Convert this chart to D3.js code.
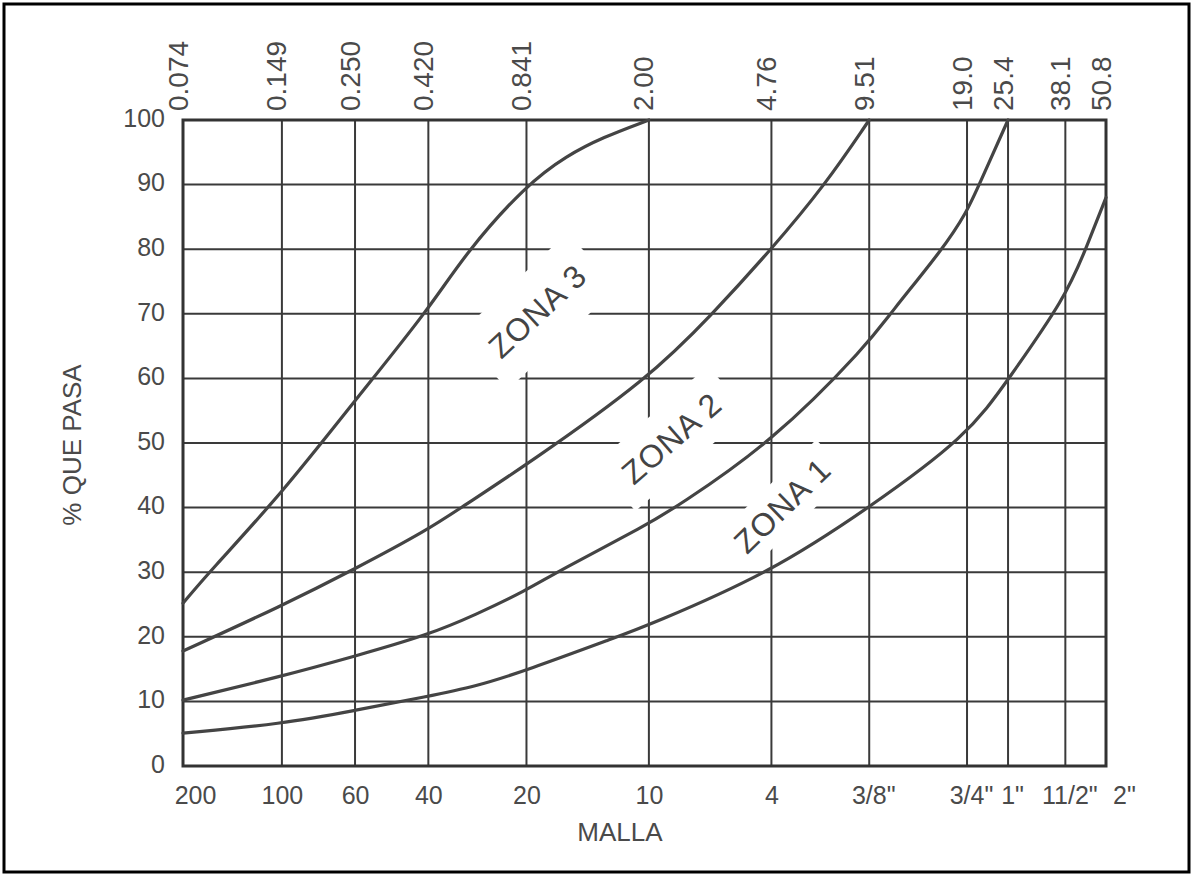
<!DOCTYPE html>
<html lang="es">
<head>
<meta charset="UTF-8">
<title>Zonas granulométricas</title>
<script src="https://cdnjs.cloudflare.com/ajax/libs/d3/7.8.0/d3.min.js"></script>
<style>
  body { margin: 0; background: #fff; }
  svg { display: block; font-family: "Liberation Sans", Arial, sans-serif; }
  .lbl text { fill: #4a4a4a; font-size: 25px; }
  .grid line { stroke: #3a3a3a; stroke-width: 2; }
  .curve { fill: none; stroke: #444; stroke-width: 3.2; stroke-linecap: round; }
</style>
</head>
<body>
<svg id="viz" width="1193" height="876"></svg>
<script>
// abertura del tamiz en mm (eje log)
const tamices = [0.074, 0.149, 0.250, 0.420, 0.841, 2.00, 4.76, 9.51, 19.0, 25.4, 38.1, 50.8];
const mmLabels = ["0.074", "0.149", "0.250", "0.420", "0.841", "2.00", "4.76", "9.51", "19.0", "25.4", "38.1", "50.8"];
const mallaLabels = ["200", "100", "60", "40", "20", "10", "4", "3/8\"", "3/4\"", "1\"", "11/2\"", "2\""];
const pctTicks = [0, 10, 20, 30, 40, 50, 60, 70, 80, 90, 100];

// curvas limite [mm, % que pasa]
const limite3 = [[0.074, 25.2], [0.089, 30], [0.149, 42.2], [0.25, 56.6], [0.42, 70.6],
  [0.548, 79.5], [0.841, 90], [1.12, 94.5], [1.44, 97.3], [2.0, 100]];
const limite23 = [[0.074, 17.8], [0.149, 24.8], [0.25, 30.5], [0.42, 36.6], [0.529, 40], [0.841, 46.6],
  [2.0, 60], [3.14, 70], [4.76, 80], [6.97, 90], [9.51, 100]];
const limite12 = [[0.074, 10.2], [0.149, 13.9], [0.25, 17], [0.42, 20.3], [0.586, 23.4], [0.841, 27.2],
  [1.04, 30], [2.0, 37.5], [2.41, 40], [4.76, 50], [9.51, 65.5], [11.0, 70], [16.0, 80], [19.0, 85.8],
  [20.7, 90], [25.4, 100]];
const limite1 = [[0.074, 5.1], [0.149, 6.5], [0.25, 8.6], [0.42, 10.8], [0.586, 12.3], [0.841, 14.8],
  [1.6, 20], [2.0, 21.8], [4.76, 30], [9.51, 40], [19.0, 51], [25.4, 59.8], [38.1, 72.5],
  [44.0, 80], [50.8, 88]];

const zonas = ["ZONA 3", "ZONA 2", "ZONA 1"];
const zonaEn = [[0.91, 70.4], [2.35, 50.7], [5.15, 40.3]];   // centro del rotulo [mm, %]

const svg = d3.select('#viz');
const mLeft = 183, mRight = 1106, mTop = 120, mBottom = 766;

const x = d3.scaleLog().domain([0.074, 50.8]).range([mLeft, mRight]);
const y = d3.scaleLinear().domain([0, 100]).range([mBottom, mTop]);

// marco exterior
svg.append('rect')
  .attr('x', 4).attr('y', 4).attr('width', 1185).attr('height', 868)
  .attr('fill', 'none').attr('stroke', '#000').attr('stroke-width', 3);

// reticula
const grid = svg.append('g').attr('class', 'grid');
grid.append('g').selectAll('line').data(tamices).join('line')
  .attr('x1', d => x(d)).attr('x2', d => x(d))
  .attr('y1', mTop).attr('y2', mBottom);
grid.append('g').selectAll('line').data(pctTicks).join('line')
  .attr('x1', mLeft).attr('x2', mRight)
  .attr('y1', d => y(d)).attr('y2', d => y(d));

// huecos blancos detras de los rotulos
const angulos = [-43, -41, -44];
const huecos = [[150, 74], [150, 62], [140, 48]];
svg.append('g').selectAll('rect').data(zonas).join('rect')
  .attr('x', (d, i) => -huecos[i][0] / 2).attr('y', (d, i) => -huecos[i][1] / 2)
  .attr('width', (d, i) => huecos[i][0]).attr('height', (d, i) => huecos[i][1])
  .attr('fill', '#fff')
  .attr('transform', (d, i) => `translate(${x(zonaEn[i][0])},${y(zonaEn[i][1])}) rotate(${angulos[i]})`);

// borde del grafico
svg.append('rect')
  .attr('x', mLeft).attr('y', mTop).attr('width', mRight - mLeft).attr('height', mBottom - mTop)
  .attr('fill', 'none').attr('stroke', '#333').attr('stroke-width', 3);

// curvas
const line = d3.line().x(d => x(d[0])).y(d => y(d[1])).curve(d3.curveBasis);
svg.append('g').selectAll('path').data([limite3, limite23, limite12, limite1]).join('path')
  .attr('class', 'curve').attr('d', line);

// rotulos de zona
svg.append('g').selectAll('text').data(zonas).join('text')
  .attr('transform', (d, i) => `translate(${x(zonaEn[i][0])},${y(zonaEn[i][1])}) rotate(${angulos[i]})`)
  .attr('text-anchor', 'middle').attr('dominant-baseline', 'central')
  .style('font-size', '32px').style('letter-spacing', '1px').attr('fill', '#444')
  .text(d => d);

// eje izquierdo
svg.append('g').attr('class', 'lbl').attr('transform', `translate(${mLeft},0)`)
  .call(d3.axisLeft(y).tickValues(pctTicks).tickSize(0).tickPadding(18))
  .call(g => g.select('.domain').remove())
  .call(g => g.selectAll('text').attr('dy', '0.25em'));

// eje inferior (malla)
svg.append('g').attr('class', 'lbl').attr('transform', `translate(0,${mBottom})`)
  .call(d3.axisBottom(x).tickValues(tamices).tickFormat((d, i) => mallaLabels[i]).tickSize(0).tickPadding(20))
  .call(g => g.select('.domain').remove())
  .call(g => g.selectAll('text').attr('dx', (d, i) => {
    if (i === 0) return 12;
    if (i === tamices.length - 1) return 18;
    return mallaLabels[i].endsWith('"') ? 4 : 0;
  }));

// eje superior (mm)
svg.append('g').attr('class', 'lbl').attr('transform', `translate(0,${mTop})`)
  .call(d3.axisTop(x).tickValues(tamices).tickFormat((d, i) => mmLabels[i]).tickSize(0))
  .call(g => g.select('.domain').remove())
  .call(g => g.selectAll('text')
    .attr('transform', 'rotate(-90)')
    .attr('x', 9).attr('y', 4).attr('dy', 0)
    .style('text-anchor', 'start').style('font-size', '28px'));

// titulos
svg.append('text')
  .attr('transform', 'translate(81,445) rotate(-90)')
  .attr('text-anchor', 'middle').attr('fill', '#4a4a4a').style('font-size', '26px')
  .text('% QUE PASA');
svg.append('text')
  .attr('x', 620).attr('y', 841)
  .attr('text-anchor', 'middle').attr('fill', '#4a4a4a').style('font-size', '26px')
  .text('MALLA');
</script>
</body>
</html>
